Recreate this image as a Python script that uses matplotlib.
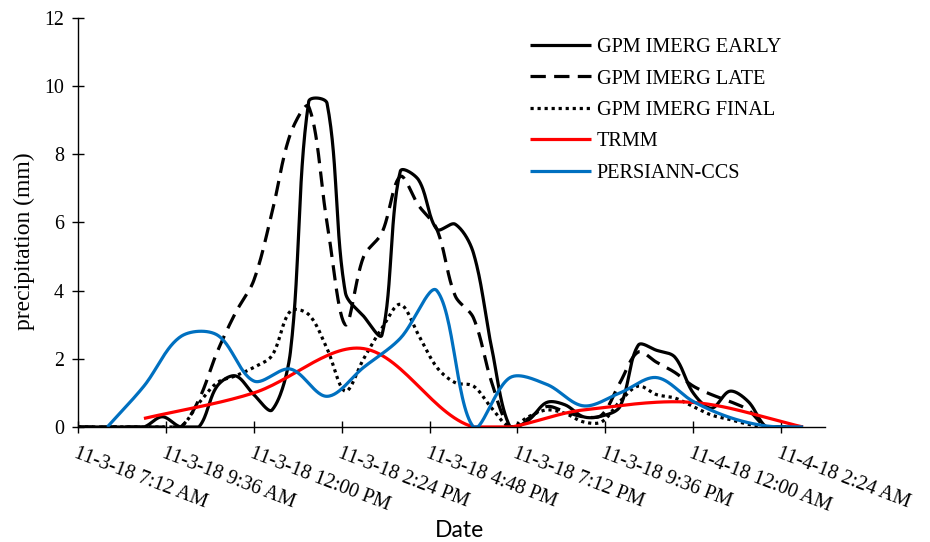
"""Satellite precipitation estimates, 3-4 Nov 2018, smoothed line chart."""

import numpy as np
import matplotlib
matplotlib.use("Agg")
import matplotlib.pyplot as plt


OUT_PATH = "out.png"
DPI      = 100

# ── Global typography & style ─────────────────────────────────────────────────
matplotlib.rcParams.update({
    "font.family":       "serif",
    "font.serif":        ["Liberation Serif", "DejaVu Serif"],
    "font.size":         14.4,
    "axes.linewidth":    1.0,
    "axes.spines.top":   False,
    "axes.spines.right": False,
})

# ── Data (x = hours after 11-3-18 00:00) ──────────────────────────────────────
GPM_HOURS = [
    7.0, 7.5, 8.0, 8.5, 9.0, 9.5, 10.0, 10.5, 11.0, 11.5,
    12.0, 12.5, 13.0, 13.5, 14.0, 14.5, 15.0, 15.5, 16.0, 16.5,
    17.0, 17.5, 18.0, 18.5, 19.0, 19.5, 20.0, 20.5, 21.0, 21.5,
    22.0, 22.5, 23.0, 23.5, 24.0, 24.5, 25.0, 25.5, 26.0, 26.5, 27.0,
]
GPM_EARLY = [
    0, 0, 0, 0, 0, 0.3, 0, 0, 1.2, 1.5,
    0.95, 0.5, 2.2, 9.55, 9.5, 3.95, 3.25, 2.7, 7.5, 7.25,
    5.8, 5.95, 5.1, 2.3, 0, 0.2, 0.72, 0.65, 0.3, 0.32,
    0.6, 2.4, 2.25, 2.05, 1.0, 0.55, 1.05, 0.75, 0, 0, 0,
]
GPM_LATE = [
    0, 0, 0, 0, 0, 0, 0, 0.8, 2.2, 3.35,
    4.3, 6.3, 8.6, 9.4, 6.0, 3.0, 5.0, 5.7, 7.35, 6.5,
    5.8, 3.85, 3.2, 1.3, 0, 0.25, 0.6, 0.45, 0.3, 0.35,
    1.3, 2.2, 1.9, 1.6, 1.2, 0.95, 0.75, 0.5, 0, 0, 0,
]
GPM_FINAL = [
    0, 0, 0, 0, 0, 0, 0, 0.7, 1.3, 1.5,
    1.75, 2.1, 3.4, 3.3, 2.3, 1.05, 2.0, 2.9, 3.6, 2.7,
    1.75, 1.3, 1.2, 0.55, 0, 0.3, 0.5, 0.4, 0.15, 0.15,
    0.75, 1.2, 0.95, 0.85, 0.6, 0.35, 0.22, 0.08, 0, 0, 0,
]

TRMM_HOURS = [9, 12, 15, 18, 21, 24, 27]
TRMM       = [0.25, 1.0, 2.3, 0, 0.5, 0.72, 0]

CCS_HOURS = [
    8, 9, 10, 11, 12, 13, 14, 15, 16, 17,
    18, 19, 20, 21, 22, 23, 24, 25, 26, 27,
]
PERSIANN_CCS = [
    0, 1.2, 2.65, 2.7, 1.35, 1.7, 0.9, 1.75, 2.6, 4.0,
    0, 1.45, 1.25, 0.62, 1.0, 1.45, 0.75, 0.28, 0.03, 0,
]

TICK_HOURS  = [7.2, 9.6, 12.0, 14.4, 16.8, 19.2, 21.6, 24.0, 26.4]
TICK_LABELS = [
    "11-3-18 7:12 AM", "11-3-18 9:36 AM", "11-3-18 12:00 PM",
    "11-3-18 2:24 PM", "11-3-18 4:48 PM", "11-3-18 7:12 PM",
    "11-3-18 9:36 PM", "11-4-18 12:00 AM", "11-4-18 2:24 AM",
]

BLUE = "#0070C0"
RED  = "#FF0000"


# ── Helpers ───────────────────────────────────────────────────────────────────

def smooth(ax, xs, ys, n=30):
    """Excel-like smoothed line: Bezier through every point, with control
    arms scaled by neighbouring chord lengths (in screen space)."""
    pts = ax.transData.transform(np.column_stack([xs, ys]).astype(float))
    pad = np.vstack([pts[:1], pts, pts[-1:]])
    t = np.linspace(0, 1, n, endpoint=False)[:, None]
    out = []
    for i in range(len(pts) - 1):
        p0, p1, p2, p3 = pad[i], pad[i + 1], pad[i + 2], pad[i + 3]
        d01 = np.hypot(*(p1 - p0))
        d12 = np.hypot(*(p2 - p1))
        d23 = np.hypot(*(p3 - p2))
        c1 = p1 + (p2 - p0) * (d12 / max(d01 + d12, 1e-9)) / 3
        c2 = p2 - (p3 - p1) * (d12 / max(d12 + d23, 1e-9)) / 3
        seg = ((1 - t) ** 3) * p1 + 3 * ((1 - t) ** 2) * t * c1 \
            + 3 * (1 - t) * t ** 2 * c2 + t ** 3 * p2
        out.append(seg)
    out.append(pts[-1:])
    curve = ax.transData.inverted().transform(np.vstack(out))
    return curve[:, 0], np.maximum(curve[:, 1], 0)


def main() -> None:
    fig = plt.figure(figsize=(9.30, 5.42), dpi=DPI)
    ax = fig.add_axes([0.0839, 0.2122, 0.8032, 0.7546])
    ax.set_xlim(7.2, 27.6)
    ax.set_ylim(0, 12)

    series = [
        (GPM_HOURS, GPM_EARLY, "GPM IMERG EARLY", dict(color="black", linestyle="-")),
        (GPM_HOURS, GPM_LATE, "GPM IMERG LATE", dict(color="black", dashes=(4.8, 2.6))),
        (GPM_HOURS, GPM_FINAL, "GPM IMERG FINAL", dict(color="black", linestyle=(0, (1, 1.2)))),
        (TRMM_HOURS, TRMM, "TRMM", dict(color=RED, linestyle="-")),
        (CCS_HOURS, PERSIANN_CCS, "PERSIANN-CCS", dict(color=BLUE, linestyle="-")),
    ]
    for xs, ys, label, style in series:
        sx, sy = smooth(ax, xs, ys)
        ax.plot(sx, sy, label=label, linewidth=2.3, solid_capstyle="butt", **style)

    ax.set_yticks(range(0, 13, 2))
    ax.set_xticks(TICK_HOURS)
    ax.set_xticklabels(TICK_LABELS, rotation=-21, ha="left", va="top",
                       rotation_mode="anchor", fontsize=14.6)
    ax.tick_params(axis="both", direction="inout", length=8.5, width=1.0)
    ax.tick_params(axis="y", pad=6, labelsize=14.4)
    ax.tick_params(axis="x", pad=8)

    ax.set_ylabel("precipitation (mm)", fontsize=17, va="center")
    ax.yaxis.set_label_coords(-0.0723, 0.455)
    ax.set_xlabel("Date", fontsize=16.5, family=["Lato", "DejaVu Sans"])
    ax.xaxis.set_label_coords(0.511, -0.227)

    ax.legend(
        loc="upper left",
        bbox_to_anchor=(530 / 930, 1 - 38 / 542),
        bbox_transform=fig.transFigure,
        frameon=False,
        fontsize=14.6,
        borderpad=0,
        borderaxespad=0,
        handlelength=3.0,
        handletextpad=0.3,
        labelspacing=0.6,
    )

    fig.savefig(OUT_PATH, dpi=DPI)
    plt.close(fig)


if __name__ == "__main__":
    main()
